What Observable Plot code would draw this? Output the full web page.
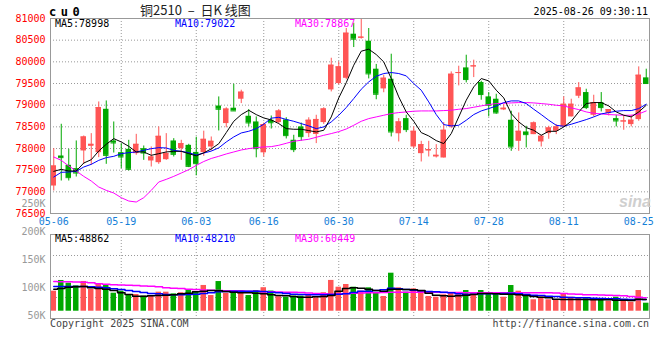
<!DOCTYPE html>
<html><head><meta charset="utf-8">
<script src="https://cdn.jsdelivr.net/npm/d3@7"></script>
<script src="https://cdn.jsdelivr.net/npm/@observablehq/plot@0.6"></script>
<style>
body{margin:0;background:#fff}
#c{position:relative;width:660px;height:360px;overflow:hidden;background:#fff;font-family:"DejaVu Sans Mono",monospace;font-size:10px;color:#000}
#c .a{position:absolute;white-space:pre;line-height:12px}
#c svg{position:absolute;left:0}
</style></head><body>
<div id="c"></div>
<script>
// ---- data ----
const dates = ["05-06","05-07","05-08","05-09","05-12","05-13","05-14","05-15","05-16","05-19","05-20","05-21","05-22","05-23","05-26","05-27","05-28","05-29","05-30","06-03","06-04","06-05","06-06","06-09","06-10","06-11","06-12","06-13","06-16","06-17","06-18","06-19","06-20","06-23","06-24","06-25","06-26","06-27","06-30","07-01","07-02","07-03","07-04","07-07","07-08","07-09","07-10","07-11","07-14","07-15","07-16","07-17","07-18","07-21","07-22","07-23","07-24","07-25","07-28","07-29","07-30","07-31","08-01","08-04","08-05","08-06","08-07","08-08","08-11","08-12","08-13","08-14","08-15","08-18","08-19","08-20","08-21","08-22","08-25","08-26"];
const open = [77134,77827,77612,77535,77943,78050,77904,78905,78174,77904,77981,77881,77996,77712,77673,77742,78174,77996,78073,77910,77905,78035,78980,78575,78930,79137,78744,78613,77900,78652,78600,78660,78190,78498,78344,78324,78598,79352,79499,79620,80638,80545,80476,79830,79375,79599,78340,78690,78035,77881,77943,77804,77781,78497,79730,79860,79884,79522,79191,79137,78890,78652,78166,78382,78320,78151,78344,78397,78497,78729,79206,79291,78767,79060,78806,78690,78613,78552,78667,79630];
const high = [77997,78559,77981,78174,78289,78343,79074,79097,78612,78112,78189,78327,78058,78035,78497,78343,78227,78189,78097,78260,78400,78266,79190,78940,79483,79345,78898,78729,78586,78750,78898,78710,78305,78586,78709,78767,78940,80083,79998,80769,80891,81000,80769,79940,79691,80176,78690,78767,78498,78166,78166,78089,78598,79768,79899,80153,80038,79553,79291,79252,79013,78860,78821,78513,78613,78305,78513,78551,79191,79137,79521,79368,79229,79291,78898,78767,78767,78767,79884,79830];
const low = [77019,77250,77250,77342,77635,77612,77789,77635,77896,77535,77481,77843,77727,77573,77635,77727,77804,77727,77558,77370,77820,77940,78405,78478,78867,79037,78498,77785,77805,78450,78570,78220,77905,78170,78250,78113,78556,79306,79468,79587,80330,80523,79606,79125,79287,78267,78151,78367,77997,77689,77804,77781,77781,78459,79445,79514,79637,79114,78729,78790,78875,77935,77935,78013,78320,78035,78213,78320,78497,78729,79152,78898,78729,78844,78752,78498,78421,78498,78629,79480];
const close = [77596,77789,77327,77434,78266,78096,78944,77842,78128,77804,77519,78096,77896,77804,78281,77881,77866,78112,77588,77650,78212,78166,78906,78910,78867,79300,78590,77997,78552,78594,78865,78297,77974,78274,78652,78670,78913,79922,79884,80661,80523,80570,79722,79252,79622,78382,78613,78436,78397,78089,77974,77843,78421,79714,79753,79591,79907,79245,78998,78821,78929,78036,78397,78320,78590,78282,78474,78497,79021,79021,79398,78944,79060,78944,78898,78636,78636,78652,79691,79499];
const ma5 = [77473,77519,77481,77481,77665,77742,77943,78097,78228,78151,78050,77920,77920,77843,77881,77920,77935,77935,77881,77830,77900,77990,78110,78367,78628,78782,78882,78782,78705,78659,78575,78459,78444,78444,78413,78382,78421,78729,79167,79520,79922,80245,80292,80168,79999,79614,79191,78844,78628,78367,78290,78182,78113,78344,78729,79114,79422,79614,79560,79345,79168,78805,78613,78482,78420,78305,78397,78397,78497,78628,78844,79037,79060,79060,78983,78844,78767,78729,78844,78998];
const ma10 = [77342,77450,77458,77473,77573,77635,77727,77789,77819,77881,77904,77920,77958,77996,78020,78012,77958,77935,77904,77850,77895,77940,78015,78151,78267,78359,78398,78459,78560,78700,78720,78670,78628,78575,78521,78459,78498,78613,78767,78945,79152,79368,79537,79668,79730,79753,79730,79676,79499,79345,79075,78783,78552,78521,78536,78652,78783,78867,78921,78980,79060,79098,79098,79037,78906,78783,78652,78536,78513,78560,78613,78667,78729,78798,78829,78860,78875,78875,78921,79022];
const ma30 = [77804,77727,77596,77481,77357,77250,77111,77034,76973,76865,76788,76765,76865,77034,77227,77288,77357,77434,77512,77610,77700,77770,77820,77874,77920,77966,77997,78020,78036,78043,78074,78120,78167,78190,78213,78259,78305,78344,78390,78450,78536,78628,78690,78729,78767,78806,78829,78844,78860,78867,78867,78867,78875,78883,78906,78921,78952,78983,79014,79037,79044,79052,79060,79060,79052,79037,79021,78998,78983,78937,78898,78844,78813,78798,78783,78775,78767,78767,78798,78867];
// volume (thousand lots, as read against the panel's axis labels)
const vol = [98.8,117.9,113,108.4,116.1,101.8,110.7,108.9,95.2,98.8,91.1,92.9,89.9,91.1,97,97,94,96,100,98,109,91,116,95,99,100,91,100,105,99,89,88,90,90,93,87,96,118,105.9,110.7,105.9,98.8,104.8,95.2,89.3,130.9,104.8,97,103,98.8,89.3,88,92.3,95.2,95.2,100,94.1,100,94.1,94.1,88,108.9,98.8,89.9,83.4,88,83.4,83.4,94.1,88,87,85.2,85.2,83.4,80.9,88,82.1,79.1,100,77.3];
const vma5 = [102.4,103.6,106,106.6,107.2,104.8,103.6,102.4,100,95.8,92.9,89.9,89.9,90.5,91.1,91.7,92.3,94.1,95.2,97.6,98.8,100,99.4,98.2,97,95.8,95.8,95.2,94.1,92.3,91.1,90.5,89.3,88.1,88.1,88.7,89.3,91.1,98.8,103.6,104.8,104.2,102.4,100,98.8,102.4,102.4,101.8,101.2,100,95.2,91.7,90.5,89.9,90.5,91.7,92.9,94.7,94.7,94.1,93.5,93.5,92.3,91.1,89.3,88.1,86.9,84.5,83.9,83.9,83.9,83.9,83.3,83.3,83.3,82.8,82.8,82.1,84.5,83.9];
const vma10 = [107.2,107.2,107.2,107.2,107.2,106.6,106,104.8,103,101.8,100,98.2,96.4,94.7,94.1,92.9,92.3,92.3,92.9,93.5,94.7,95.8,97.6,98.2,98.8,98.8,98.8,98.8,98.2,97,95.8,94.7,93.5,92.9,92.3,92.3,92.3,92.9,93.5,94.1,96.4,98.8,98.8,100,101.2,104.2,103,101.8,100.6,99.4,98.2,97.6,97,95.8,94.1,92.9,93.5,94.1,94.1,94.1,94.7,95.2,94.1,92.9,91.7,91.1,89.9,89.3,88.1,87.5,86.9,86.9,86.3,85.7,85.1,85.1,84.5,83.9,83.9,83.9];
const vma30 = [116.1,115.8,115.5,115.2,114.9,113.7,112.2,111.3,110.4,109.8,109.2,108.9,108,107.5,106.6,105.1,104.2,103.6,102.4,101.8,100.9,100.3,100,99.7,99.4,99.1,98.8,98.5,97.9,97.6,97.3,97,96.7,96.4,95.5,94.7,94.1,93.5,94.1,94.7,95.2,95.5,95.8,96.1,96.4,96.7,97,97,97,97,97,96.7,96.4,96.4,96.4,96.1,95.8,95.8,95.8,95.8,95.8,95.8,95.8,95.8,95.8,95.8,95.8,95.5,94.7,93.8,93.2,92.6,92.3,92,91.4,91.1,90.5,89.3,88.1,86.9];
const volMaLast = [48862, 48210, 60449];
const priceTicks = [76500,77000,77500,78000,78500,79000,79500,80000,80500,81000];
const volTicks = [50,100,150,200,250];
const volGridLines = [87.5,125,162.5];
const axisDates = ["05-06","05-19","06-03","06-16","06-30","07-14","07-28","08-11","08-25"];
const gridDates = ["05-19","06-03","06-16","06-30","07-14","07-28","08-11"];

// ---- drawing ----
const RED = "#ff5555", GREEN = "#00a800";
const volBase = 63; // bars rise from the panel's baseline
const candles = dates.map((date, i) => ({date, open: open[i], high: high[i], low: low[i], close: close[i],
  ma5: ma5[i], ma10: ma10[i], ma30: ma30[i], vol: vol[i], vma5: vma5[i], vma10: vma10[i], vma30: vma30[i]}));
const col = d => d.close >= d.open ? RED : GREEN;
const xOpts = () => ({type: "band", domain: dates, paddingInner: 0.27, paddingOuter: 0.07, label: null});
const grid = {stroke: "#999", strokeOpacity: 1, strokeDasharray: "1,2"};
const style = {fontFamily: "'DejaVu Sans Mono', monospace", fontSize: "10px", background: "transparent", overflow: "visible"};

const main = Plot.plot({
  width: 660, height: 232, marginLeft: 50, marginRight: 11, marginTop: 18, marginBottom: 19,
  style, x: xOpts(), y: {domain: [76500, 81000], label: null}, color: {type: "identity"},
  marks: [
    Plot.gridY(priceTicks.slice(1, -1), grid),
    Plot.gridX(gridDates, grid),
    Plot.ruleX(candles, {x: "date", y1: "low", y2: "high", stroke: col}),
    Plot.barY(candles, {x: "date", y1: "open", y2: "close", fill: col}),
    Plot.tickY(candles, {x: "date", y: "close", stroke: col}),
    Plot.line(candles, {x: "date", y: "ma30", stroke: "#ff00ff", strokeWidth: 1}),
    Plot.line(candles, {x: "date", y: "ma10", stroke: "#0000ff", strokeWidth: 1}),
    Plot.line(candles, {x: "date", y: "ma5", stroke: "#000000", strokeWidth: 1}),
    Plot.frame({stroke: "#999"}),
    Plot.axisY({ticks: priceTicks, tickSize: 0, tickPadding: 5, color: "#ff0000", label: null, tickFormat: d => String(d)}),
    Plot.axisX({ticks: axisDates, tickSize: 0, tickPadding: 4, color: "#1580d8", label: null})
  ]
});
main.style.top = "0px";

const volume = Plot.plot({
  width: 660, height: 150, marginLeft: 50, marginRight: 11, marginTop: 44, marginBottom: 22,
  style, x: xOpts(), y: {domain: [50, 200], label: null}, color: {type: "identity"},
  marks: [
    Plot.gridY(volGridLines, grid),
    Plot.gridX(gridDates, grid),
    Plot.barY(candles, {x: "date", y1: volBase, y2: "vol", fill: col}),
    Plot.line(candles, {x: "date", y: "vma30", stroke: "#ff00ff", strokeWidth: 1.5, curve: "step"}),
    Plot.line(candles, {x: "date", y: "vma10", stroke: "#0000ff", strokeWidth: 1.5, curve: "step"}),
    Plot.line(candles, {x: "date", y: "vma5", stroke: "#000000", strokeWidth: 1.5, curve: "step"}),
    Plot.frame({stroke: "#999"}),
    Plot.axisY({ticks: volTicks, tickSize: 0, tickPadding: 5, dy: -3, color: "#999", label: null, tickFormat: d => d + "K"}),
    Plot.axisX({ticks: [], label: null})
  ]
});
volume.style.top = "190px";

const c = document.getElementById("c");
c.append(main, volume);
function label(text, css) {
  const d = document.createElement("div");
  d.className = "a"; d.textContent = text; d.style.cssText += css; c.append(d); return d;
}
label("cu0", "left:49px;top:5px;font-size:12px;font-weight:bold;letter-spacing:4.5px;line-height:14px");
label("铜2510  –  日K 线图", "left:140px;top:2px;font-family:'Noto Sans CJK SC';font-size:13px;line-height:16px;color:#222");
label("2025-08-26 09:30:11", "right:12px;top:6px");
label("MA5:" + ma5[ma5.length - 1], "left:55px;top:17.5px;color:#000");
label("MA10:" + ma10[ma10.length - 1], "left:175px;top:17.5px;color:#0000ff");
label("MA30:" + ma30[ma30.length - 1], "left:295px;top:17.5px;color:#ff00ff");
label("MA5:" + volMaLast[0], "left:55px;top:232.5px;color:#000");
label("MA10:" + volMaLast[1], "left:175px;top:232.5px;color:#0000ff");
label("MA30:" + volMaLast[2], "left:295px;top:232.5px;color:#ff00ff");
label("Copyright 2025 SINA.COM", "left:50px;top:317.5px;color:#444");
label("http://finance.sina.com.cn", "right:11px;top:317.5px;color:#444");
label("sina", "left:619px;top:193px;font-family:'Liberation Sans';font-size:16px;font-weight:bold;font-style:italic;color:#cfcfcf;line-height:18px");
</script>
</body></html>
